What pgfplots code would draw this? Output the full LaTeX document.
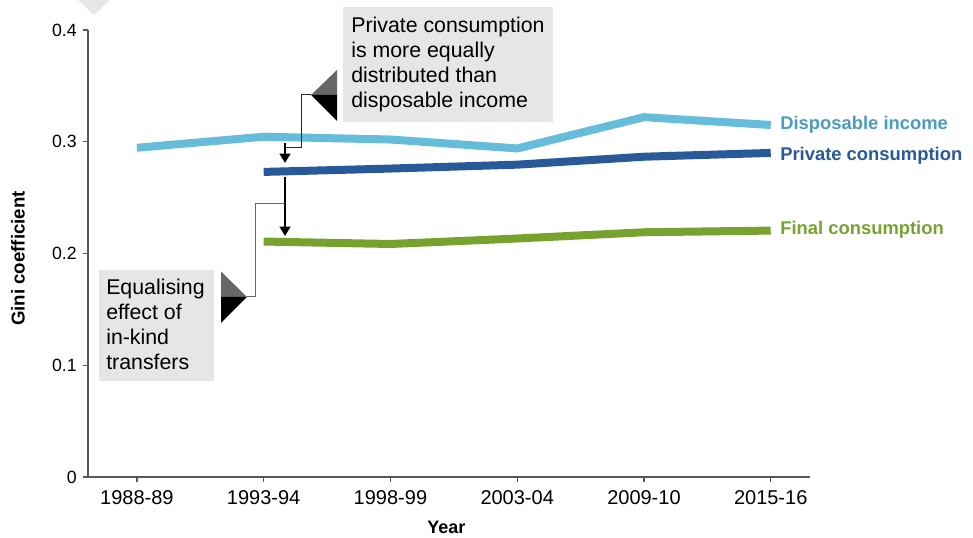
\documentclass[border=0pt]{standalone}
\usepackage{pgfplots}
\pgfplotsset{compat=1.18}
\usepackage{pgfplotstable}
\usepackage{fontspec}
\setmainfont{Liberation Sans}
\usetikzlibrary{arrows.meta}
\definecolor{dispc}{HTML}{65BCDB}
\definecolor{privc}{HTML}{285A9A}
\definecolor{finc}{HTML}{77A22F}
\definecolor{displab}{HTML}{4A9CC0}
\definecolor{boxgray}{HTML}{E6E6E6}
\definecolor{trigray}{HTML}{666666}
\definecolor{axgray}{HTML}{595959}

\pgfplotstableread{
x y
0 0.2946
1 0.3045
2 0.3020
3 0.2940
4 0.3220
5 0.3150
}\disp
\pgfplotstableread{
x y
1 0.2730
2 0.2760
3 0.2795
4 0.2866
5 0.2900
}\priv
\pgfplotstableread{
x y
1 0.2107
2 0.2085
3 0.2134
4 0.2190
5 0.2205
}\final

\begin{document}
\begin{tikzpicture}
% pixel frame: (88,477)px is the axis origin corner
\begin{scope}[x=0.75pt,y=-0.75pt,shift={(-66pt,357.75pt)}]
\path[use as bounding box] (0,0) rectangle (973,538);
\end{scope}
\begin{axis}[
  at={(0,0)}, anchor=south west,
  scale only axis, width=541.5pt, height=335.25pt,
  xmin=-0.386, xmax=5.31, ymin=0, ymax=0.4,
  axis x line*=bottom, axis y line*=left,
  axis line style={axgray, line width=1.1pt},
  tick style={axgray, line width=0.9pt},
  tick align=outside, major tick length=4pt,
  xtick={0,1,2,3,4,5},
  xticklabels={1988-89,1993-94,1998-99,2003-04,2009-10,2015-16},
  ytick={0,0.1,0.2,0.3,0.4},
  /pgf/number format/assume math mode=true,
  yticklabel style={font=\fontsize{13.3}{15}\selectfont, anchor=east, inner sep=0pt, xshift=-4.25pt},
  xticklabel style={font=\fontsize{15}{16}\selectfont, anchor=base, inner sep=0pt, yshift=-17pt},
  xlabel={Year},
  ylabel={Gini coefficient},
  xlabel style={at={(axis description cs:0.5,0)}, anchor=base, inner sep=0pt, yshift=-42.5pt, xshift=-2pt, font=\bfseries\fontsize{13.5}{16}\selectfont},
  ylabel style={at={(axis description cs:0,0.5)}, anchor=center, inner sep=0pt, yshift=52.5pt, xshift=-3.75pt, font=\bfseries\fontsize{14}{16}\selectfont},
  clip=false,
]
\addplot[dispc, line width=6pt, line cap=butt, mark=none] table {\disp};
\addplot[privc, line width=6pt, line cap=butt, mark=none] table {\priv};
\addplot[finc, line width=6pt, line cap=butt, mark=none] table {\final};
\end{axis}
\begin{scope}[x=0.75pt,y=-0.75pt,shift={(-66pt,357.75pt)}]
% faint top triangle
\fill[boxgray] (78,0) -- (110,0) -- (94,15) -- cycle;
% annotation box 1
\fill[boxgray] (343,7) rectangle (553,122);
\begin{scope}[every node/.style={font=\fontsize{16}{18.75}\selectfont, anchor=base west, inner sep=0pt}]
\node at (351,33) {Private consumption};
\node at (351,58) {is more equally};
\node at (351,83) {distributed than};
\node at (351,108) {disposable income};
\end{scope}
\fill[trigray] (311,95) -- (337,70) -- (337,95) -- cycle;
\fill[black] (311,95) -- (337,95) -- (337,121) -- cycle;
\draw[black!85, line width=0.75pt] (311,95) -- (301,95) -- (301,148) -- (285,148);
\draw[black, line width=1.5pt, -{Triangle[length=7pt,width=8pt]}] (285,143) -- (285,163);
% second arrow
\draw[black, line width=1.5pt, -{Triangle[length=7pt,width=8pt]}] (285,177) -- (285,236);
\draw[black!60, line width=0.75pt] (285,204) -- (255,204) -- (255,297) -- (247,297);
\fill[trigray] (221,271.5) -- (247,297) -- (221,297) -- cycle;
\fill[black] (221,297) -- (247,297) -- (221,323) -- cycle;
% annotation box 2
\fill[boxgray] (99,270) rectangle (214,381);
\begin{scope}[every node/.style={font=\fontsize{16}{18.75}\selectfont, anchor=base west, inner sep=0pt}]
\node at (106,295) {Equalising};
\node at (106,320) {effect of};
\node at (106,345) {in-kind};
\node at (106,370) {transfers};
\end{scope}
% series labels
\begin{scope}[every node/.style={font=\bfseries\fontsize{13.8}{16}\selectfont, anchor=base west, inner sep=0pt}]
\node[text=displab] at (780,129.5) {Disposable income};
\node[text=privc] at (780,160.5) {Private consumption};
\node[text=finc] at (780,235) {Final consumption};
\end{scope}
\end{scope}
\end{tikzpicture}
\end{document}
